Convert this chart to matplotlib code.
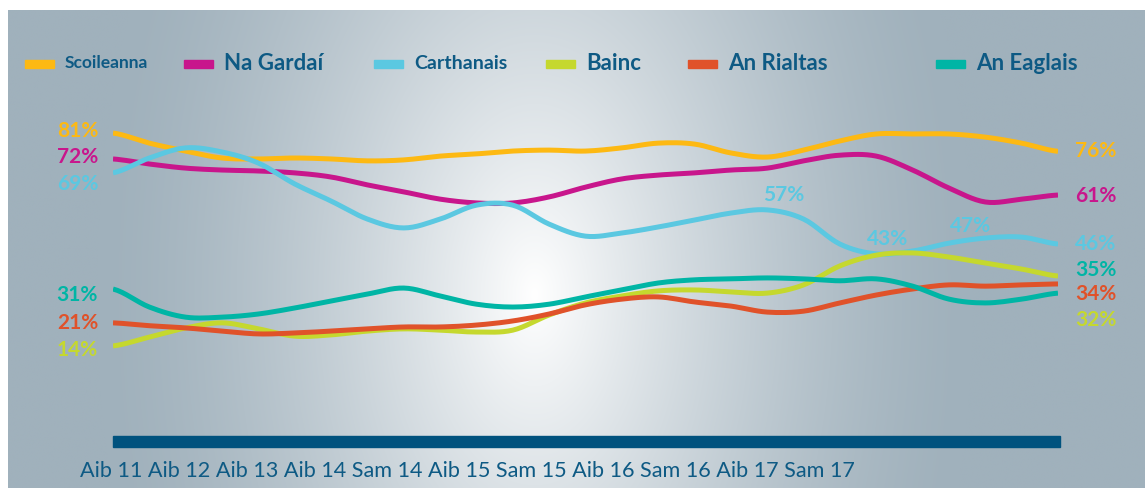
import numpy as np
import matplotlib
matplotlib.use("Agg")
import matplotlib.pyplot as plt
from matplotlib.patches import Rectangle

# survey points (27 evenly spaced samples)
n_pts = 27
scoileanna = [81, 77.8, 75.3, 73.1, 72.8, 73.1, 72.8, 72.2, 72.5, 73.7, 74.4, 75.3, 75.6, 75.3,
              76.3, 77.8, 77.5, 74.7, 73.4, 75.6, 78.5, 80.7, 80.7, 80.7, 79.7, 77.8, 75.2]
na_gardai = [72.8, 71.2, 69.9, 69.3, 69.0, 68.4, 67.1, 64.6, 62.4, 60.1, 58.9, 58.9, 60.8, 63.9,
             66.5, 67.7, 68.4, 69.3, 69.9, 72.2, 74.0, 73.7, 69.3, 63.6, 59.2, 60.1, 61.4]
carthanais = [68.4, 73.1, 76.3, 75.0, 71.5, 64.9, 59.5, 53.8, 51.0, 53.8, 58.2, 58.2, 52.2, 48.4,
              49.4, 51.3, 53.5, 55.7, 56.7, 53.8, 45.9, 42.8, 43.7, 46.2, 47.8, 48.1, 45.9]
bainc = [13.7, 16.5, 19.4, 21.0, 19.1, 16.8, 17.2, 18.4, 19.1, 18.7, 18.1, 18.7, 23.5, 27.3,
         29.5, 31.1, 31.4, 30.8, 30.4, 33.0, 39.0, 42.4, 43.1, 41.8, 39.9, 38.0, 35.8]
an_rialtas = [21.0, 20.1, 19.4, 18.4, 17.5, 17.8, 18.4, 19.1, 19.7, 19.7, 20.3, 21.6, 23.8, 26.7,
              28.5, 29.2, 27.6, 26.3, 24.4, 24.7, 27.3, 29.8, 31.7, 33.0, 32.6, 33.0, 33.3]
an_eaglais = [31.7, 26.0, 22.8, 22.8, 23.8, 25.7, 27.9, 30.1, 32.0, 29.5, 26.9, 26.0, 26.9, 29.2,
              31.4, 33.6, 34.6, 34.9, 35.2, 34.9, 34.3, 34.9, 32.6, 28.5, 27.3, 28.5, 30.4]

series_names = ["Scoileanna", "Na Gardaí", "Carthanais", "Bainc", "An Rialtas", "An Eaglais"]
series_values = [scoileanna, na_gardai, carthanais, bainc, an_rialtas, an_eaglais]
colors = ["#fdb913", "#c8168c", "#5bc8e1", "#c5d82e", "#e0522a", "#00b5a5"]

left_labels = ["81%", "72%", "69%", "31%", "21%", "14%"]
left_label_vals = [81.5, 73.3, 64.8, 29.8, 21.0, 12.5]
left_label_colors = [colors[0], colors[1], colors[2], colors[5], colors[4], colors[3]]
right_labels = ["76%", "61%", "46%", "35%", "34%", "32%"]
right_label_vals = [75.2, 61.2, 46.0, 37.6, 30.0, 21.8]
right_label_colors = [colors[0], colors[1], colors[2], colors[5], colors[4], colors[3]]
inner_labels = ["57%", "43%", "47%"]
inner_label_pos = [(18.45, 61.4), (21.3, 47.5), (23.6, 51.6)]

x_label_text = "Aib 11 Aib 12 Aib 13 Aib 14 Sam 14 Aib 15 Sam 15 Aib 16 Sam 16 Aib 17 Sam 17"

text_blue = "#0e5a84"
W, H = 1145, 488


def smooth(y, k=8):
    # Catmull-Rom through the read points, for drawing only
    y = np.asarray(y, float)
    p = np.concatenate([[y[0]], y, [y[-1]]])
    xs, ys = [], []
    for i in range(len(y) - 1):
        t = np.linspace(0, 1, k, endpoint=False)
        p0, p1, p2, p3 = p[i], p[i + 1], p[i + 2], p[i + 3]
        seg = 0.5 * (2 * p1 + (-p0 + p2) * t + (2 * p0 - 5 * p1 + 4 * p2 - p3) * t ** 2
                     + (-p0 + 3 * p1 - 3 * p2 + p3) * t ** 3)
        xs.append(i + t)
        ys.append(seg)
    xs.append([len(y) - 1])
    ys.append([y[-1]])
    return np.concatenate(xs), np.concatenate(ys)


fig = plt.figure(figsize=(W / 100, H / 100), dpi=100)
fig.patch.set_facecolor("white")

# background panel with the soft light in the middle
bg = fig.add_axes([0, 0, 1, 1])
bg.set_xlim(0, W)
bg.set_ylim(H, 0)
bg.axis("off")
X, Y = np.meshgrid(np.arange(W), np.arange(H))
t = np.sqrt(((X - 530) / 440.0) ** 2 + ((Y - 290) / 760.0) ** 2)
f = np.clip(1 - t, 0, 1) ** 1.5
edge = np.array([160, 177, 188]) / 255.0
img = edge[None, None, :] + (1 - edge)[None, None, :] * f[..., None]
bg.imshow(img, extent=(8, W, H, 10), aspect="auto", zorder=0)

# dark bar under the plot
bg.add_patch(Rectangle((113, 436), 947, 11, color="#00527e", zorder=2))
bg.text(80, 471, x_label_text, fontsize=15.6, color=text_blue, va="center", ha="left",
        family=["Lato", "DejaVu Sans"])

# legend
legend_x = [25, 184, 374, 546, 688, 936]
legend_sizes = [12.5, 16, 14, 16, 16, 16]
for lx, name, c, fs in zip(legend_x, series_names, colors, legend_sizes):
    bg.add_patch(Rectangle((lx, 60), 29, 8, color=c, zorder=2))
    bg.text(lx + 40, 63.5, name, fontsize=fs, color=text_blue, fontweight="bold",
            va="center", ha="left", family=["Lato", "DejaVu Sans"])

# data axes
ax = fig.add_axes([113 / W, 1 - 389.3 / H, 945 / W, (389.3 - 72.9) / H])
ax.set_xlim(0, n_pts - 1)
ax.set_ylim(0, 100)
ax.axis("off")
ax.patch.set_alpha(0)

for vals, c in zip(series_values, colors):
    xs, ys = smooth(vals)
    ax.plot(xs, ys, color=c, lw=3.6, solid_capstyle="butt", solid_joinstyle="round")

lab_font = dict(fontsize=15, fontweight="bold", family=["Lato", "DejaVu Sans"])
for s, v, c in zip(left_labels, left_label_vals, left_label_colors):
    ax.annotate(s, xy=(0, v), xytext=(-15, 0), textcoords="offset pixels",
                ha="right", va="center", color=c, annotation_clip=False, **lab_font)
for s, v, c in zip(right_labels, right_label_vals, right_label_colors):
    ax.annotate(s, xy=(n_pts - 1, v), xytext=(17, 0), textcoords="offset pixels",
                ha="left", va="center", color=c, annotation_clip=False, **lab_font)
for s, (px, v) in zip(inner_labels, inner_label_pos):
    ax.text(px, v, s, ha="center", va="center", color=colors[2], **lab_font)

fig.savefig("out.png", dpi=100)
